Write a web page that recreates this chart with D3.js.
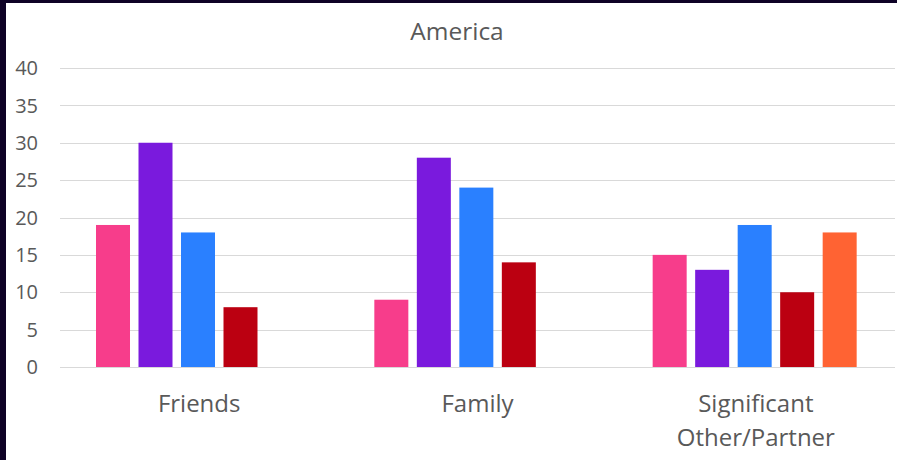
<!DOCTYPE html>
<html><head><meta charset="utf-8">
<script src="https://cdn.jsdelivr.net/npm/d3@7"></script>
<style>
html,body{margin:0;padding:0;background:#fff;}
svg{display:block;}
</style></head>
<body>
<script>
const title = "America";
const categories = [["Friends"], ["Family"], ["Significant", "Other/Partner"]];
const seriesNames = ["S1", "S2", "S3", "S4", "S5"];
const seriesColors = ["#F73D8B", "#7A1ADD", "#2A80FF", "#BB0011", "#FF6333"];
const values = [
  [19, 30, 18, 8, null],
  [9, 28, 24, 14, null],
  [15, 13, 19, 10, 18]
];
const yTicks = [0, 5, 10, 15, 20, 25, 30, 35, 40];

(function () {
const W = 897, H = 460;
const svg = d3.select("body").append("svg").attr("width", W).attr("height", H);
svg.append("rect").attr("width", W).attr("height", H).attr("fill", "#0E0226");
svg.append("rect").attr("x", 6).attr("y", 3).attr("width", W - 6).attr("height", H - 3).attr("fill", "#fff");

const font = "'Open Sans', 'Noto Sans', sans-serif";
const pLeft = 60, pRight = 895, pTop = 68, pBottom = 367;
const y = d3.scaleLinear().domain([0, 40]).range([pBottom, pTop]);
const x0 = d3.scaleBand().domain(d3.range(categories.length)).range([pLeft, pRight]).padding(0);
const x1 = d3.scaleBand().domain(d3.range(seriesNames.length)).range([36, 240]).paddingInner(0.2);

// grid
svg.append("g").selectAll("line").data(yTicks).join("line")
  .attr("x1", pLeft).attr("x2", pRight)
  .attr("y1", d => Math.round(y(d)) + 0.5).attr("y2", d => Math.round(y(d)) + 0.5)
  .attr("stroke", "#D9D9D9").attr("stroke-width", 1);

// y labels
svg.append("g").selectAll("text").data(yTicks).join("text")
  .attr("x", 38).attr("y", d => y(d)).attr("dy", "0.36em")
  .attr("text-anchor", "end").attr("font-family", font).attr("font-size", 20)
  .attr("fill", "#595959").text(d => d);

// bars
const groups = svg.append("g").selectAll("g").data(values).join("g")
  .attr("transform", (d, i) => `translate(${x0(i)},0)`);
groups.selectAll("rect").data(d => d.map((v, j) => ({v, j})).filter(e => e.v != null)).join("rect")
  .attr("x", e => x1(e.j)).attr("width", x1.bandwidth())
  .attr("y", e => y(e.v)).attr("height", e => y(0) - y(e.v))
  .attr("fill", e => seriesColors[e.j]);

// category labels
const cl = svg.append("g").selectAll("text").data(categories).join("text")
  .attr("text-anchor", "middle").attr("font-family", font).attr("font-size", 24)
  .attr("fill", "#595959");
cl.each(function(lines, i) {
  const t = d3.select(this);
  lines.forEach((ln, k) => {
    t.append("tspan").attr("x", x0(i) + x0.bandwidth() / 2).attr("y", 412 + k * 34).text(ln);
  });
});

// title
svg.append("text").attr("x", 457).attr("y", 40).attr("text-anchor", "middle")
  .attr("font-family", font).attr("font-size", 24.5).attr("fill", "#595959").text(title);
})();
</script>
</body></html>
